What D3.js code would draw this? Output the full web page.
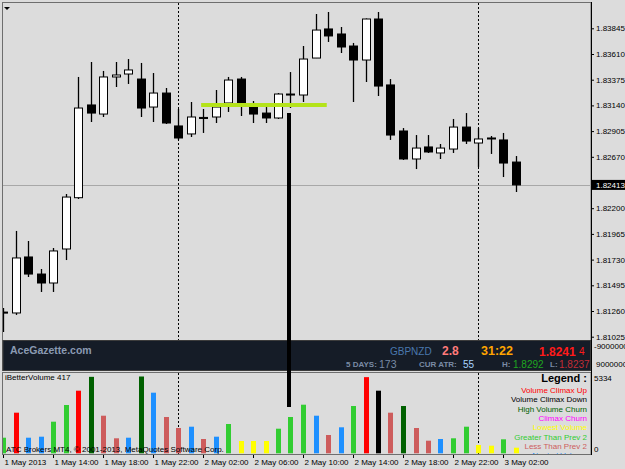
<!DOCTYPE html>
<html>
<head>
<meta charset="utf-8">
<script src="https://cdn.jsdelivr.net/npm/d3@7"></script>
<style>
body { margin: 0; background: #dcdcdc; }
svg { display: block; font-family: "Liberation Sans", Arial, sans-serif; }
</style>
</head>
<body>
<div id="chart"></div>
<script>
// GBPNZD H1 candles, 1 May 2013 10:00 onward
const opens  = [1.81250, 1.81242, 1.81754, 1.81598, 1.81516, 1.81827, 1.82296, 1.83144, 1.83061, 1.83400, 1.83427, 1.83381, 1.83125, 1.83253, 1.82952, 1.82879, 1.83030, 1.83034, 1.83162, 1.83381, 1.83125, 1.83070, 1.83025, 1.83244, 1.83235, 1.83573, 1.83839, 1.83793, 1.83683, 1.83555, 1.83930, 1.83327, 1.82906, 1.82650, 1.82760, 1.82705, 1.82741, 1.82942, 1.82796, 1.82842, 1.82824, 1.82622];
const highs  = [1.81287, 1.81992, 1.81900, 1.81644, 1.81836, 1.82330, 1.83400, 1.83537, 1.83455, 1.83537, 1.83564, 1.83528, 1.83436, 1.83299, 1.83107, 1.83171, 1.83107, 1.83281, 1.83400, 1.83400, 1.83180, 1.83125, 1.83253, 1.83445, 1.83683, 1.83976, 1.83994, 1.83857, 1.83711, 1.83935, 1.83994, 1.83381, 1.82933, 1.82869, 1.82869, 1.82787, 1.83016, 1.83070, 1.82933, 1.82860, 1.82888, 1.82677];
const lows   = [1.81068, 1.81224, 1.81571, 1.81434, 1.81434, 1.81726, 1.82284, 1.82988, 1.83034, 1.83308, 1.83336, 1.83034, 1.82988, 1.82970, 1.82824, 1.82851, 1.82888, 1.82979, 1.83080, 1.83043, 1.82979, 1.82979, 1.83016, 1.83116, 1.83171, 1.83573, 1.83720, 1.83619, 1.83171, 1.83354, 1.83226, 1.82824, 1.82641, 1.82558, 1.82705, 1.82650, 1.82705, 1.82787, 1.82577, 1.82696, 1.82485, 1.82348];
const closes = [1.81242, 1.81745, 1.81598, 1.81516, 1.81809, 1.82302, 1.83116, 1.83070, 1.83400, 1.83418, 1.83464, 1.83116, 1.83253, 1.82979, 1.82842, 1.83034, 1.83020, 1.83125, 1.83372, 1.83162, 1.83061, 1.83025, 1.83244, 1.83240, 1.83564, 1.83829, 1.83775, 1.83674, 1.83555, 1.83930, 1.83317, 1.82869, 1.82650, 1.82750, 1.82714, 1.82750, 1.82942, 1.82814, 1.82833, 1.82838, 1.82613, 1.82413];

// iBetterVolume
const volumes  = [1083, 2820, 1083, 1153, 2195, 3354, 4348, 5310, 2611, 1042, 1083, 5334, 4209, 2521, 1757, 1847, 993, 1153, 2035, 854, 854, 854, 1708, 2521, 3375, 2611, 1271, 1806, 3285, 5290, 4348, 2820, 3285, 1757, 875, 993, 1042, 1847, 576, 528, 972, 389];
const volTypes = ["gt", "up", "neutral", "neutral", "gt", "gt", "up", "churn", "lt", "lt", "neutral", "churn", "neutral", "lt", "lt", "neutral", "lt", "neutral", "gt", "low", "low", "low", "gt", "gt", "gt", "neutral", "lt", "neutral", "gt", "up", "down", "lt", "churn", "lt", "lt", "neutral", "gt", "gt", "low", "low", "gt", "low"];

const legendKeys   = ["up", "down", "churn", "climaxChurn", "low", "gt", "lt", "neutral"];
const legendLabels = ["Volume Climax Up", "Volume Climax Down", "High Volume Churn", "Climax Churn", "Lowest Volume", "Greater Than Prev 2", "Less Than Prev 2", "Neutral Volume"];
const legendColors = ["#ff0000", "#000000", "#006000", "#ff00ff", "#ffff00", "#32cd32", "#cd5c5c", "#1e90ff"];

const priceTicks = [1.83845, 1.83610, 1.83375, 1.83140, 1.82905, 1.82670, 1.82200, 1.81965, 1.81730, 1.81495, 1.81260, 1.81025];
const timeTickHours = [0, 4, 8, 12, 16, 20, 24, 28, 32, 36, 40];
const volTicks = [5334, 0];
const bidPrice = 1.82413;
const maxVolume = 5334;

// drawn annotations
const levelPrice = 1.83144, levelFrom = 15.85, levelTo = 25.9;
const markerPos = 22.88, markerTop = 1.83070, markerBottomVol = 3215;

const W = 625, H = 469;
const t0 = new Date(Date.UTC(2013, 4, 1, 10));
const times = opens.map((d, i) => d3.utcHour.offset(t0, i));
const hourAt = k => new Date(t0.getTime() + k * 3600000);

const x = d3.scaleUtc().domain([t0, d3.utcHour.offset(t0, 47)]).range([3, 590.5]);
const y = d3.scaleLinear().domain([1.81025, 1.83845]).range([336.7, 28.3]);
const yv = d3.scaleLinear().domain([0, maxVolume]).range([453.3, 376.5]);
const color = d3.scaleOrdinal().domain(legendKeys).range(legendColors);

const svg = d3.select("#chart").append("svg")
    .attr("width", W)
    .attr("height", H);

svg.append("rect").attr("width", W).attr("height", H).attr("fill", "#dcdcdc");

const defs = svg.append("defs");
defs.append("clipPath").attr("id", "clipMain")
    .append("rect").attr("x", 3).attr("y", 3).attr("width", 588).attr("height", 338);
defs.append("clipPath").attr("id", "clipVol")
    .append("rect").attr("x", 3).attr("y", 373).attr("width", 588).attr("height", 81);

// window borders
svg.append("rect").attr("x", 2.5).attr("y", 2.5).attr("width", 588.5).attr("height", 368)
    .attr("fill", "none").attr("stroke", "#6e6e6e");
svg.append("rect").attr("x", 2.5).attr("y", 372.5).attr("width", 588.5).attr("height", 82)
    .attr("fill", "none").attr("stroke", "#6e6e6e");

// day separators
const days = [d3.utcDay.ceil(t0), d3.utcDay.offset(d3.utcDay.ceil(t0), 1)];
days.forEach(d => {
    [[3, 341], [373, 454]].forEach(r => {
        svg.append("line")
            .attr("x1", Math.round(x(d)) + 0.5).attr("x2", Math.round(x(d)) + 0.5)
            .attr("y1", r[0]).attr("y2", r[1])
            .attr("stroke", "#000").attr("stroke-dasharray", "2,2");
    });
});

const main = svg.append("g").attr("clip-path", "url(#clipMain)");

// bid line
main.append("line")
    .attr("x1", 3).attr("x2", 591)
    .attr("y1", Math.round(y(bidPrice)) + 0.5).attr("y2", Math.round(y(bidPrice)) + 0.5)
    .attr("stroke", "#a8a8a8");

// candles
const candles = main.selectAll("g.candle")
    .data(opens.map((o, i) => ({ t: times[i], o, h: highs[i], l: lows[i], c: closes[i] })))
    .enter().append("g");

candles.append("line")
    .attr("x1", d => Math.round(x(d.t)) + 0.5)
    .attr("x2", d => Math.round(x(d.t)) + 0.5)
    .attr("y1", d => y(d.h))
    .attr("y2", d => y(d.l))
    .attr("stroke", "#000")
    .attr("stroke-width", 1.3);

candles.append("rect")
    .attr("x", d => Math.round(x(d.t)) - 3.5)
    .attr("y", d => y(Math.max(d.o, d.c)))
    .attr("width", 8)
    .attr("height", d => Math.max(1, y(Math.min(d.o, d.c)) - y(Math.max(d.o, d.c))))
    .attr("fill", d => d.c >= d.o ? "#fff" : "#000")
    .attr("stroke", "#000")
    .attr("stroke-width", 1);

// horizontal level
main.append("line")
    .attr("x1", x(hourAt(levelFrom))).attr("x2", x(hourAt(levelTo)))
    .attr("y1", y(levelPrice)).attr("y2", y(levelPrice))
    .attr("stroke", "#b4e31a").attr("stroke-width", 4);

// small menu triangle
svg.append("path").attr("d", "M4,7L10,7L7,10Z").attr("fill", "#000");

// price axis
const yAxis = svg.append("g")
    .attr("transform", "translate(591,0)")
    .call(d3.axisRight(y).tickValues(priceTicks).tickSize(3).tickPadding(2).tickFormat(d3.format(".5f")));
yAxis.select(".domain").remove();
yAxis.selectAll("text").attr("font-size", "8px").attr("fill", "#000").attr("font-family", "Liberation Sans, Arial, sans-serif");
svg.append("line").attr("x1", 591.5).attr("x2", 591.5).attr("y1", 2).attr("y2", 455).attr("stroke", "#000");

// bid label
svg.append("rect").attr("x", 592).attr("y", y(bidPrice) - 5).attr("width", 33).attr("height", 10).attr("fill", "#000");
svg.append("text").attr("x", 596).attr("y", y(bidPrice) + 3)
    .attr("font-size", "8px").attr("fill", "#fff").text(d3.format(".5f")(bidPrice));

// info panel
svg.append("rect").attr("x", 3).attr("y", 340.5).attr("width", 587.5).attr("height", 30)
    .attr("fill", "#151c27").attr("stroke", "#3c3c3c");
const info = [
    { x: 10, y: 354, t: "AceGazette.com", c: "#8a9ab2", s: 10.5, w: "bold" },
    { x: 390, y: 354.5, t: "GBPNZD", c: "#4a78ad", s: 10, w: "normal" },
    { x: 442, y: 355, t: "2.8", c: "#ff7a7a", s: 12, w: "bold" },
    { x: 481, y: 355, t: "31:22", c: "#ffa500", s: 12.5, w: "bold" },
    { x: 539, y: 355.5, t: "1.8241", c: "#ff1a1a", s: 12, w: "bold" },
    { x: 579, y: 355, t: "4", c: "#ff1a1a", s: 10, w: "normal" },
    { x: 346, y: 367, t: "5 DAYS:", c: "#7a8ba5", s: 8, w: "bold" },
    { x: 379, y: 368, t: "173", c: "#7a8ba5", s: 10.5, w: "normal" },
    { x: 419, y: 367, t: "CUR ATR:", c: "#7a8ba5", s: 8, w: "bold" },
    { x: 463, y: 368, t: "55", c: "#a8d4ff", s: 10, w: "normal" },
    { x: 502, y: 367, t: "H:", c: "#7a8ba5", s: 8, w: "bold" },
    { x: 513, y: 367.5, t: "1.8292", c: "#1fa51f", s: 10, w: "normal" },
    { x: 550, y: 367, t: "L:", c: "#7a8ba5", s: 8, w: "bold" },
    { x: 559, y: 367.5, t: "1.8237", c: "#c22c36", s: 10, w: "normal" }
];
svg.selectAll("text.info").data(info).enter().append("text")
    .attr("x", d => d.x).attr("y", d => d.y)
    .attr("font-size", d => d.s + "px").attr("font-weight", d => d.w)
    .attr("fill", d => d.c).text(d => d.t);
svg.append("text").attr("x", 594).attr("y", 349).attr("font-size", "8px").text("-9000000");
svg.append("text").attr("x", 596).attr("y", 367).attr("font-size", "8px").text("9000000");

// volume bars
const vol = svg.append("g").attr("clip-path", "url(#clipVol)");
vol.selectAll("rect")
    .data(volumes.map((v, i) => ({ t: times[i], v, k: volTypes[i] })))
    .enter().append("rect")
    .attr("x", d => Math.round(x(d.t)) - 2)
    .attr("y", d => yv(d.v))
    .attr("width", 5)
    .attr("height", d => yv(0) - yv(d.v))
    .attr("fill", d => color(d.k));

vol.append("text").attr("x", 5).attr("y", 380).attr("font-size", "8px").text("iBetterVolume 417");
vol.append("text").attr("x", 6).attr("y", 452).attr("font-size", "8px").text("ATC Brokers MT4, \u00a9 2001-2013, MetaQuotes Software Corp.");

vol.append("text").attr("x", 587).attr("y", 382).attr("text-anchor", "end")
    .attr("font-size", "11px").attr("font-weight", "bold").text("Legend :");
vol.selectAll("text.leg").data(legendLabels).enter().append("text")
    .attr("x", 587).attr("y", (d, i) => 393 + i * 9.3)
    .attr("text-anchor", "end").attr("font-size", "8px")
    .attr("fill", (d, i) => legendColors[i]).text(d => d);

svg.selectAll("text.vt").data(volTicks).enter().append("text")
    .attr("x", 594).attr("y", d => d ? yv(d) + 4 : 452)
    .attr("font-size", "8px").text(d => d);

// time axis
const xAxis = svg.append("g")
    .attr("transform", "translate(0,455)")
    .call(d3.axisBottom(x)
        .tickValues(timeTickHours.map(hourAt))
        .tickSize(3)
        .tickFormat(d => +d === +t0 ? d3.utcFormat("%-d %b %Y")(d) : d3.utcFormat("%-d %b %H:%M")(d)));
xAxis.select(".domain").remove();
xAxis.selectAll("text").attr("text-anchor", "start").attr("dx", "1px").attr("dy", "0.45em")
    .attr("font-size", "8px").attr("font-family", "Liberation Sans, Arial, sans-serif");

// vertical marker drawn across windows
svg.append("line")
    .attr("x1", x(hourAt(markerPos))).attr("x2", x(hourAt(markerPos)))
    .attr("y1", y(markerTop)).attr("y2", yv(markerBottomVol))
    .attr("stroke", "#000").attr("stroke-width", 4);
</script>
</body>
</html>
